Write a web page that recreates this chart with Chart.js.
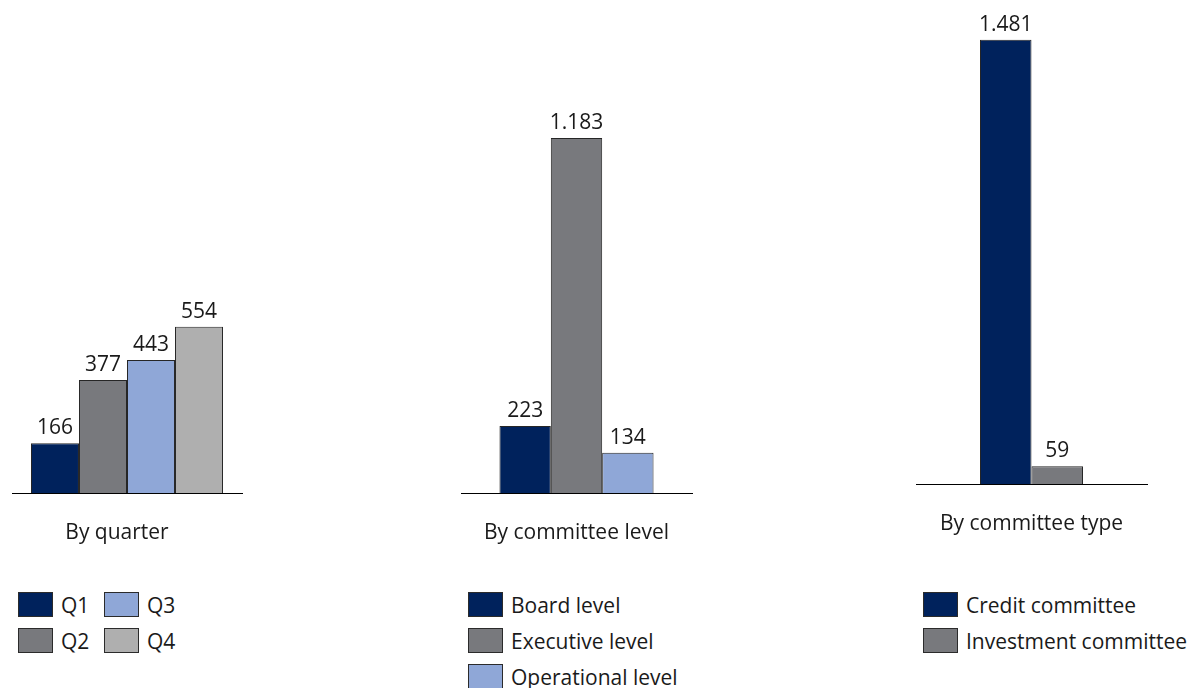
<!DOCTYPE html>
<html>
<head>
<meta charset="utf-8">
<script src="https://cdn.jsdelivr.net/npm/chart.js@4/dist/chart.umd.min.js"></script>
<style>
  body {
    margin: 0;
    width: 1188px;
    height: 688px;
    overflow: hidden;
    position: relative;
    background: #ffffff;
    font-family: "Open Sans", sans-serif;
    color: #1a1a1a;
  }
  canvas { position: absolute; top: 0; }
  .legend {
    position: absolute;
    top: 592px;
    display: grid;
    grid-auto-flow: column;
    row-gap: 11px;
    font-size: 21px;
  }
  .legend-item { display: flex; align-items: center; height: 25px; white-space: nowrap; }
  .legend-box {
    width: 35px;
    height: 25px;
    box-sizing: border-box;
    border: 1.5px solid #2b2b2b;
    margin-right: 8px;
    flex: none;
  }
</style>
</head>
<body>
<!-- each canvas is 14px wider on both sides than its axis line -->
<canvas id="quarterChart" width="258" height="574" style="left:-2px"></canvas>
<canvas id="levelChart" width="259" height="574" style="left:447px"></canvas>
<canvas id="typeChart" width="259" height="565" style="left:902px"></canvas>

<div id="quarterLegend" class="legend" style="left:18px; grid-template-rows:repeat(2, 25px); grid-template-columns:86px 86px;"></div>
<div id="levelLegend" class="legend" style="left:468px; grid-template-rows:repeat(3, 25px);"></div>
<div id="typeLegend" class="legend" style="left:923px; grid-template-rows:repeat(2, 25px);"></div>

<script>
  // Number of committee meetings
  const groupNames = ["By quarter", "By committee level", "By committee type"];

  const quarterLabels = ["Q1", "Q2", "Q3", "Q4"];
  const quarterValues = [166, 377, 443, 554];

  const levelLabels = ["Board level", "Executive level", "Operational level"];
  const levelValues = [223, 1183, 134];

  const typeLabels = ["Credit committee", "Investment committee"];
  const typeValues = [1481, 59];

  const navy = "#00225c";
  const darkGray = "#78797d";
  const lightBlue = "#8fa7d7";
  const lightGray = "#afafaf";

  const quarterColors = [navy, darkGray, lightBlue, lightGray];
  const levelColors = [navy, darkGray, lightBlue];
  const typeColors = [navy, darkGray];

  const fontFamily = "'Open Sans', sans-serif";
  const textColor = "#1a1a1a";

  // 1481 -> "1.481"
  function formatNumber(v) {
    return String(v).replace(/\B(?=(\d{3})+(?!\d))/g, ".");
  }

  // Values written above each bar
  const valueLabels = {
    id: "valueLabels",
    afterDatasetsDraw(chart) {
      const ctx = chart.ctx;
      ctx.save();
      ctx.font = "21px " + fontFamily;
      ctx.fillStyle = textColor;
      ctx.textAlign = "center";
      ctx.textBaseline = "alphabetic";
      chart.data.datasets.forEach((ds, i) => {
        chart.getDatasetMeta(i).data.forEach((bar, j) => {
          ctx.fillText(formatNumber(ds.data[j]), bar.x, bar.y - 9);
        });
      });
      ctx.restore();
    },
  };

  function makeChart(canvasId, groupName, labels, values, colors, groupWidth, padTop, labelOffset) {
    const ctx = document.getElementById(canvasId).getContext("2d");
    return new Chart(ctx, {
      type: "bar",
      data: {
        labels: [groupName],
        datasets: labels.map((label, i) => ({
          label: label,
          data: [values[i]],
          backgroundColor: colors[i],
          borderColor: "#262626",
          borderWidth: 1,
          barPercentage: 1,
          categoryPercentage: groupWidth,
        })),
      },
      options: {
        responsive: false,
        animation: false,
        layout: { padding: { top: padTop, left: 14, right: 14, bottom: 0 } },
        plugins: {
          legend: { display: false },
          tooltip: { enabled: false },
        },
        scales: {
          x: {
            grid: { display: false, drawTicks: false },
            border: { display: true, color: "#000000", width: 1 },
            ticks: {
              color: textColor,
              font: { family: fontFamily, size: 21, lineHeight: "25px" },
              padding: 28,
              maxRotation: 0,
              labelOffset: labelOffset,
            },
          },
          y: { display: false, min: 0, max: 1600 },
        },
      },
      plugins: [valueLabels],
    });
  }

  function buildLegend(containerId, labels, colors) {
    const container = document.getElementById(containerId);
    labels.forEach((label, i) => {
      const item = document.createElement("div");
      item.className = "legend-item";
      const box = document.createElement("span");
      box.className = "legend-box";
      box.style.background = colors[i];
      const text = document.createElement("span");
      text.textContent = label;
      item.appendChild(box);
      item.appendChild(text);
      container.appendChild(item);
    });
  }

  makeChart("quarterChart", groupNames[0], quarterLabels, quarterValues, quarterColors, 0.835, 13, -10);
  makeChart("levelChart", groupNames[1], levelLabels, levelValues, levelColors, 0.667, 13, 0);
  makeChart("typeChart", groupNames[2], typeLabels, typeValues, typeColors, 0.446, 4, 0);

  buildLegend("quarterLegend", quarterLabels, quarterColors);
  buildLegend("levelLegend", levelLabels, levelColors);
  buildLegend("typeLegend", typeLabels, typeColors);
</script>
</body>
</html>
